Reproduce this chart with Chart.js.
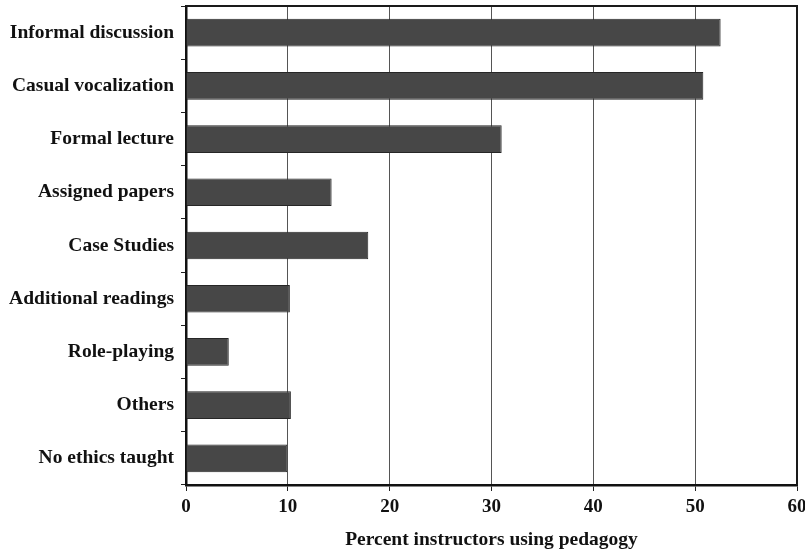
<!DOCTYPE html>
<html>
<head>
<meta charset="utf-8">
<script src="https://cdn.jsdelivr.net/npm/chart.js@4.4.1/dist/chart.umd.min.js"></script>
<style>
  html, body { margin: 0; padding: 0; background: #fff; }
  canvas { display: block; }
</style>
</head>
<body>
<canvas id="c" width="805" height="552"></canvas>
<script>
  // pedagogy categories, top to bottom
  var categories = ['Informal discussion', 'Casual vocalization', 'Formal lecture', 'Assigned papers',
    'Case Studies', 'Additional readings', 'Role-playing', 'Others', 'No ethics taught'];
  // percent of instructors using each pedagogy
  var percents = [52.5, 50.8, 31.0, 14.3, 17.9, 10.2, 4.2, 10.3, 9.95];
  var xTicks = [0, 10, 20, 30, 40, 50, 60];
  var xTitle = 'Percent instructors using pedagogy';

  var FONT = "'Liberation Serif', 'Times New Roman', serif";

  // frame round the plot area (top + right edges like the print)
  var framePlugin = {
    id: 'frame',
    afterDraw: function (chart) {
      var a = chart.chartArea, ctx = chart.ctx;
      ctx.save();
      ctx.strokeStyle = '#1a1a1a';
      ctx.lineWidth = 2;
      ctx.beginPath();
      ctx.moveTo(a.left, a.top);
      ctx.lineTo(a.right, a.top);
      ctx.lineTo(a.right, a.bottom);
      ctx.stroke();
      ctx.restore();
    }
  };

  new Chart(document.getElementById('c').getContext('2d'), {
    type: 'bar',
    data: {
      labels: categories,
      datasets: [{
        data: percents,
        backgroundColor: '#474747',
        borderColor: '#262626',
        borderWidth: 1,
        categoryPercentage: 1,
        barPercentage: 0.52
      }]
    },
    options: {
      indexAxis: 'y',
      responsive: false,
      animation: false,
      devicePixelRatio: 1,
      layout: { padding: { top: 6, right: 8, left: 0, bottom: 0 } },
      plugins: { legend: { display: false }, tooltip: { enabled: false } },
      scales: {
        x: {
          min: 0, max: 60,
          afterBuildTicks: function (s) { s.ticks = xTicks.map(function (v) { return { value: v }; }); },
          afterFit: function (s) { s.height = 67; s.paddingLeft = 0; s.paddingRight = 0; },
          grid: { color: '#555', lineWidth: 1, tickLength: 6, tickColor: '#222' },
          border: { color: '#111', width: 2.5 },
          ticks: { color: '#111', padding: 5, maxRotation: 0, autoSkip: false,
            font: { family: FONT, size: 19, weight: 'bold' } },
          title: { display: true, text: xTitle, color: '#111', padding: { top: 4, bottom: 0 },
            font: { family: FONT, size: 19.5, weight: 'bold' } }
        },
        y: {
          afterFit: function (s) { s.width = 186; s.paddingTop = 0; s.paddingBottom = 0; },
          grid: { offset: true, drawOnChartArea: false, tickLength: 5, tickColor: '#222' },
          border: { color: '#111', width: 2.5 },
          ticks: { color: '#111', padding: 7, autoSkip: false,
            font: { family: FONT, size: 19.5, weight: 'bold' } }
        }
      }
    },
    plugins: [framePlugin]
  });
</script>
</body>
</html>
